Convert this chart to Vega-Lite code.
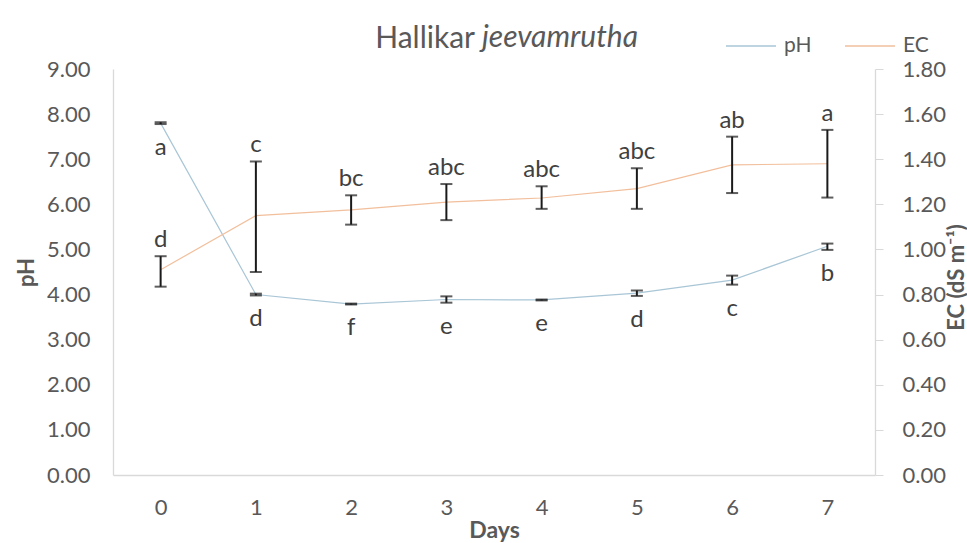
{
  "$schema": "https://vega.github.io/schema/vega-lite/v6.json",
  "width": 762,
  "height": 406,
  "autosize": "none",
  "padding": {"left": 113, "top": 69, "right": 92, "bottom": 68},
  "background": "white",
  "title": {"text": "Hallikar", "anchor": "end", "frame": "group", "dx": -400, "offset": -58, "baseline": "alphabetic", "font": "Lato", "fontSize": 30, "fontWeight": "normal", "color": "#595959"},
  "data": {"values": [
    {"day": 0, "pH": 7.80, "pH_lo": 7.78, "pH_hi": 7.82, "pH_letter": "a", "EC": 0.910, "EC_lo": 0.835, "EC_hi": 0.970, "EC_letter": "d"},
    {"day": 1, "pH": 4.00, "pH_lo": 3.98, "pH_hi": 4.02, "pH_letter": "d", "EC": 1.150, "EC_lo": 0.900, "EC_hi": 1.390, "EC_letter": "c"},
    {"day": 2, "pH": 3.79, "pH_lo": 3.78, "pH_hi": 3.80, "pH_letter": "f", "EC": 1.175, "EC_lo": 1.110, "EC_hi": 1.240, "EC_letter": "bc"},
    {"day": 3, "pH": 3.89, "pH_lo": 3.82, "pH_hi": 3.96, "pH_letter": "e", "EC": 1.210, "EC_lo": 1.130, "EC_hi": 1.290, "EC_letter": "abc"},
    {"day": 4, "pH": 3.88, "pH_lo": 3.87, "pH_hi": 3.89, "pH_letter": "e", "EC": 1.228, "EC_lo": 1.180, "EC_hi": 1.280, "EC_letter": "abc"},
    {"day": 5, "pH": 4.03, "pH_lo": 3.97, "pH_hi": 4.09, "pH_letter": "d", "EC": 1.270, "EC_lo": 1.180, "EC_hi": 1.360, "EC_letter": "abc"},
    {"day": 6, "pH": 4.32, "pH_lo": 4.22, "pH_hi": 4.42, "pH_letter": "c", "EC": 1.375, "EC_lo": 1.250, "EC_hi": 1.500, "EC_letter": "ab"},
    {"day": 7, "pH": 5.07, "pH_lo": 4.99, "pH_hi": 5.13, "pH_letter": "b", "EC": 1.380, "EC_lo": 1.230, "EC_hi": 1.530, "EC_letter": "a"}
  ]},
  "encoding": {
    "x": {"field": "day", "type": "ordinal", "scale": {"type": "point", "padding": 0.5},
      "axis": {"title": "Days", "labelAngle": 0, "ticks": false, "domainColor": "#d9d9d9", "labelPadding": 22, "titleY": 62, "titleBaseline": "alphabetic", "titleFontSize": 23}}
  },
  "layer": [
    {
      "layer": [
        {
          "mark": {"type": "line", "strokeWidth": 1.2},
          "encoding": {
            "y": {"field": "pH", "type": "quantitative", "title": "pH",
              "scale": {"domain": [0, 9], "nice": false, "zero": true},
              "axis": {"orient": "left", "values": [0,1,2,3,4,5,6,7,8,9], "format": ".2f", "ticks": false, "domainColor": "#d9d9d9", "labelPadding": 23, "titleAngle": 270, "titleX": -87, "titleY": 203, "titleBaseline": "middle", "titleAlign": "center"}},
            "color": {"datum": "pH", "type": "nominal", "scale": {"domain": ["pH", "EC"], "range": ["#a9c6d6", "#f2bf9c"]},
              "legend": {"orient": "none", "legendX": 369, "legendY": -49, "direction": "horizontal", "title": "jeevamrutha", "titleOrient": "left", "titleFontStyle": "italic", "titleFontWeight": "normal", "titleFont": "Lato", "titleFontSize": 30, "titleColor": "#595959", "titlePadding": 86, "titleAnchor": "middle", "titleBaseline": "middle", "symbolType": "stroke", "symbolSize": 2500, "symbolStrokeWidth": 1.5, "labelFont": "Lato", "labelFontSize": 21, "labelColor": "#595959", "labelOffset": 7, "columnPadding": 30, "padding": 0}}
          }
        },
        {
          "mark": {"type": "rule", "color": "#1a1a1a", "strokeWidth": 2},
          "encoding": {"y": {"field": "pH_lo", "type": "quantitative", "title": "pH"}, "y2": {"field": "pH_hi"}}
        },
        {
          "mark": {"type": "tick", "orient": "horizontal", "color": "#1a1a1a", "size": 12, "thickness": 2},
          "encoding": {"y": {"field": "pH_lo", "type": "quantitative", "title": "pH"}}
        },
        {
          "mark": {"type": "tick", "orient": "horizontal", "color": "#1a1a1a", "size": 12, "thickness": 2},
          "encoding": {"y": {"field": "pH_hi", "type": "quantitative", "title": "pH"}}
        },
        {
          "mark": {"type": "text", "font": "Lato", "fontSize": 24, "color": "#404040", "baseline": "alphabetic", "dy": 31},
          "encoding": {"y": {"field": "pH_lo", "type": "quantitative", "title": "pH"}, "text": {"field": "pH_letter"}}
        }
      ]
    },
    {
      "layer": [
        {
          "mark": {"type": "line", "strokeWidth": 1.2},
          "encoding": {
            "y": {"field": "EC", "type": "quantitative", "title": "EC (dS m⁻¹)",
              "scale": {"domain": [0, 1.8], "nice": false, "zero": true},
              "axis": {"orient": "right", "values": [0,0.2,0.4,0.6,0.8,1.0,1.2,1.4,1.6,1.8], "format": ".2f", "ticks": true, "tickColor": "#d9d9d9", "tickSize": 8, "domainColor": "#d9d9d9", "labelPadding": 19, "titleAngle": 270, "titleX": 81, "titleY": 208, "titleBaseline": "middle", "titleAlign": "center"}},
            "color": {"datum": "EC", "type": "nominal", "scale": {"domain": ["pH", "EC"], "range": ["#a9c6d6", "#f2bf9c"]},
              "legend": {"orient": "none", "legendX": 369, "legendY": -49, "direction": "horizontal", "title": "jeevamrutha", "titleOrient": "left", "titleFontStyle": "italic", "titleFontWeight": "normal", "titleFont": "Lato", "titleFontSize": 30, "titleColor": "#595959", "titlePadding": 86, "titleAnchor": "middle", "titleBaseline": "middle", "symbolType": "stroke", "symbolSize": 2500, "symbolStrokeWidth": 1.5, "labelFont": "Lato", "labelFontSize": 21, "labelColor": "#595959", "labelOffset": 7, "columnPadding": 30, "padding": 0}}
          }
        },
        {
          "mark": {"type": "rule", "color": "#1a1a1a", "strokeWidth": 2},
          "encoding": {"y": {"field": "EC_lo", "type": "quantitative", "title": "EC (dS m⁻¹)"}, "y2": {"field": "EC_hi"}}
        },
        {
          "mark": {"type": "tick", "orient": "horizontal", "color": "#1a1a1a", "size": 12, "thickness": 2},
          "encoding": {"y": {"field": "EC_lo", "type": "quantitative", "title": "EC (dS m⁻¹)"}}
        },
        {
          "mark": {"type": "tick", "orient": "horizontal", "color": "#1a1a1a", "size": 12, "thickness": 2},
          "encoding": {"y": {"field": "EC_hi", "type": "quantitative", "title": "EC (dS m⁻¹)"}}
        },
        {
          "mark": {"type": "text", "font": "Lato", "fontSize": 24, "color": "#404040", "baseline": "alphabetic", "dy": -9},
          "encoding": {"y": {"field": "EC_hi", "type": "quantitative", "title": "EC (dS m⁻¹)"}, "text": {"field": "EC_letter"}}
        }
      ]
    }
  ],
  "resolve": {"scale": {"y": "independent"}},
  "config": {
    "view": {"stroke": null},
    "axis": {"grid": false, "labelFont": "Lato", "labelFontSize": 22, "labelColor": "#595959", "titleFont": "Lato", "titleFontSize": 22, "titleFontWeight": "bold", "titleColor": "#595959", "domainWidth": 1.3}
  }
}
